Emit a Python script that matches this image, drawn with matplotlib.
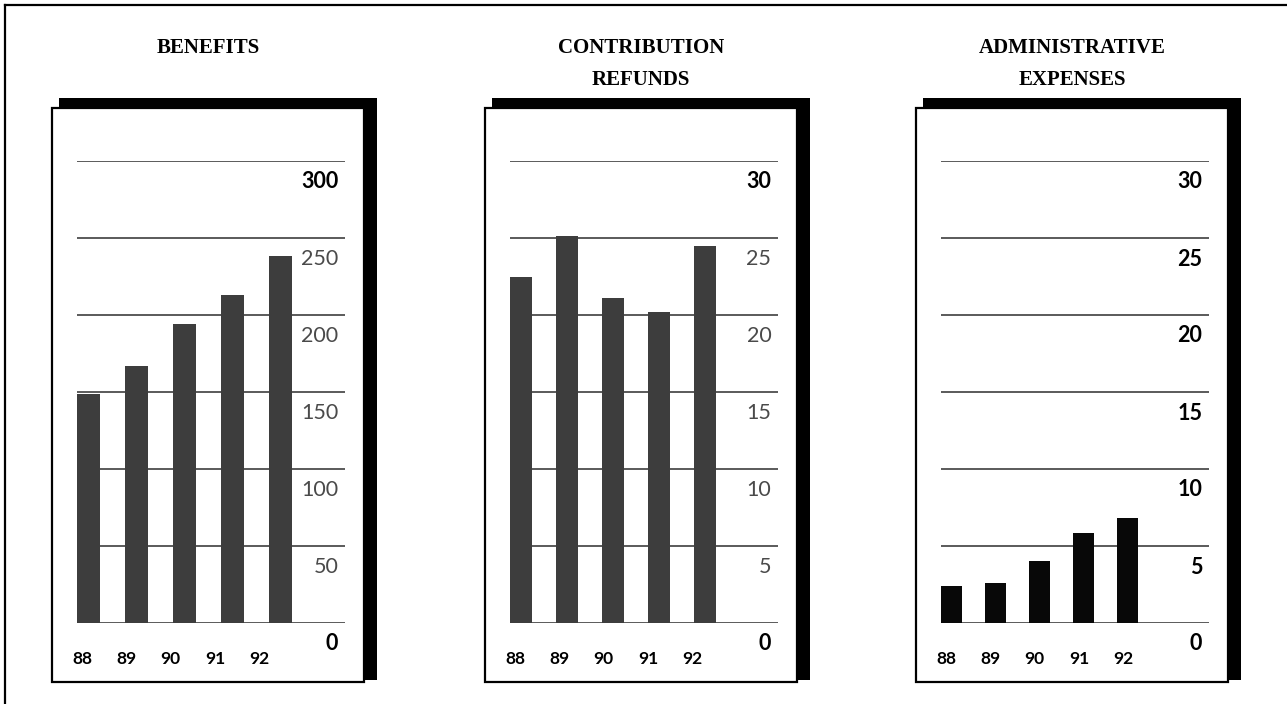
import matplotlib.pyplot as plt
from matplotlib.patches import Rectangle
from matplotlib.lines import Line2D

# fiscal years and amounts per panel
years = ['88', '89', '90', '91', '92']
benefits = [149, 167, 194, 213, 238]
refunds = [22.5, 25.1, 21.1, 20.2, 24.5]
admin = [2.4, 2.6, 4.0, 5.85, 6.8]

titles = ['BENEFITS', 'CONTRIBUTION\nREFUNDS', 'ADMINISTRATIVE\nEXPENSES']
series = [benefits, refunds, admin]
y_ticks = [[0, 50, 100, 150, 200, 250, 300],
           [0, 5, 10, 15, 20, 25, 30],
           [0, 5, 10, 15, 20, 25, 30]]
bar_colors = ['#3d3d3d', '#3d3d3d', '#080808']
all_bold = [False, False, True]
x_right = [5.34, 5.58, 5.84]

W, H = 1287, 704
fig = plt.figure(figsize=(W / 100, H / 100), dpi=100)
fig.patch.set_facecolor('white')

NUMFONT = ['Lato', 'DejaVu Sans']
TITLEFONT = ['Liberation Serif', 'DejaVu Serif']


def fx(px):
    return px / W


def fy(py):
    return 1 - py / H


# outer frame (left and top rules)
fig.add_artist(Line2D([fx(5), fx(5)], [fy(5), fy(H)], color='black', lw=1.6,
                      transform=fig.transFigure))
fig.add_artist(Line2D([fx(5), fx(W)], [fy(5), fy(5)], color='black', lw=1.6,
                      transform=fig.transFigure))

card_lefts = [52, 485, 916]
card_w = 312
card_top, card_bot = 108, 682
grid_top, grid_bot = 161, 623

for k in range(3):
    cl = card_lefts[k]
    # drop shadow behind the card
    fig.add_artist(Rectangle((fx(cl + 7), fy(680)), fx(card_w + 6), (680 - 98) / H,
                             transform=fig.transFigure, fc='black', ec='none', zorder=0.1))
    fig.add_artist(Rectangle((fx(cl), fy(card_bot)), fx(card_w), (card_bot - card_top) / H,
                             transform=fig.transFigure, fc='white', ec='black', lw=1.6,
                             zorder=0.2))

    fig.text(fx(cl + card_w / 2), fy(38), titles[k], ha='center', va='top',
             fontsize=15, fontweight='bold', family=TITLEFONT, linespacing=1.78)

    gl = cl + 25
    gw = 268
    ax = fig.add_axes([fx(gl), fy(grid_bot), fx(gw), (grid_bot - grid_top) / H])
    ax.set_zorder(1)
    ax.patch.set_visible(False)
    for s in ax.spines.values():
        s.set_visible(False)

    ticks = y_ticks[k]
    ax.set_ylim(0, ticks[-1])
    ax.set_xlim(-0.24, x_right[k])
    for t in ticks:
        ax.axhline(t, color='#2e2e2e', lw=1.1, zorder=1)

    x = list(range(len(years)))
    ax.bar(x, series[k], width=0.48, color=bar_colors[k], zorder=2)

    # year labels sit on an even 44 px pitch from the left of the rules
    ppu = gw / (x_right[k] + 0.24)
    lab_x = [-0.24 + (5 + 44.3 * i) / ppu for i in range(len(years))]
    ax.set_xticks(lab_x)
    ax.set_xticklabels(years, fontsize=12.5, fontweight='bold', family=NUMFONT)
    ax.tick_params(axis='x', length=0, pad=20)
    ax.set_yticks([])

    for t in ticks:
        strong = all_bold[k] or t in (ticks[0], ticks[-1])
        ax.annotate(str(t), xy=(0.975, t), xycoords=('axes fraction', 'data'),
                    xytext=(0, -21), textcoords='offset pixels', ha='right', va='center',
                    fontsize=15.5, fontweight='bold' if strong else 'normal',
                    color='black' if strong else '#4a4a4a', family=NUMFONT)

fig.savefig('out.png', dpi=100, facecolor='white')
